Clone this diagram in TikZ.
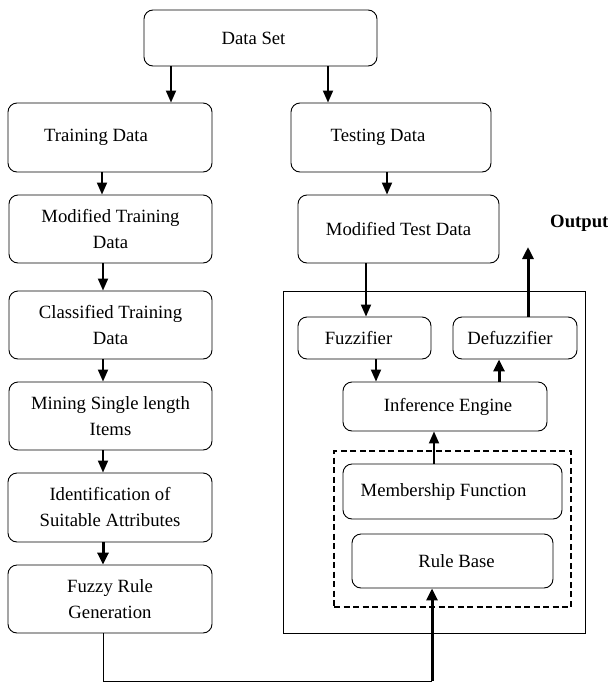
\documentclass[tikz,border=0pt]{standalone}
\usepackage{fontspec}
\setmainfont{Liberation Serif}
\usetikzlibrary{arrows.meta}
\begin{document}
\begin{tikzpicture}[x=1pt,y=-1pt,
  box/.style={draw,line width=0.9pt,rounded corners=9pt,align=center,inner sep=0pt,
    font=\fontsize{18.7}{26}\selectfont},
  arr/.style={line width=1.8pt,-{Triangle[length=12pt,width=10pt]}},
  tarr/.style={line width=3pt,-{Triangle[length=12pt,width=11pt]}},
  thin/.style={line width=0.9pt}]
\useasboundingbox (0,0) rectangle (608,683);
% left column
\node[box,minimum width=233pt,minimum height=56pt] (ds) at (260.5,38) {\hspace*{-14pt}Data Set};
\node[box,minimum width=204pt,minimum height=69pt] (td) at (110,137.5) {\hspace*{-28pt}Training Data};
\node[box,minimum width=200pt,minimum height=69pt] (ted) at (391,137.5) {\hspace*{-26pt}Testing Data};
\node[box,minimum width=203pt,minimum height=68pt] (mtd) at (110.5,229) {Modified Training\\Data};
\node[box,minimum width=201pt,minimum height=68pt] (mted) at (398.5,229) {Modified Test Data};
\node[box,minimum width=203pt,minimum height=68pt] (ctd) at (110.5,325) {Classified Training\\Data};
\node[box,minimum width=203pt,minimum height=68pt] (ms) at (110.5,416) {Mining Single length\\Items};
\node[box,minimum width=204pt,minimum height=69pt] (id) at (110,507.5) {Identification of\\Suitable Attributes};
\node[box,minimum width=204pt,minimum height=68pt] (frg) at (110,599) {Fuzzy Rule\\Generation};
% right system
\node[draw,thin,minimum width=302pt,minimum height=342pt,inner sep=0pt] (sys) at (434,462) {};
\node[box,minimum width=133pt,minimum height=42pt] (fuzz) at (364.5,338) {\hspace*{-12pt}Fuzzifier};
\node[box,minimum width=124pt,minimum height=42pt] (defuzz) at (515,338) {\hspace*{-10pt}Defuzzifier};
\node[box,minimum width=204pt,minimum height=49pt] (inf) at (445,406.5) {\hspace*{6pt}Inference Engine};
\node[draw,line width=1.8pt,dash pattern=on 6pt off 3.5pt,minimum width=237pt,minimum height=156pt,inner sep=0pt] (kb) at (452.5,529) {};
\node[box,minimum width=219pt,minimum height=55pt] (mf) at (452.5,491.5) {\hspace*{-18pt}Membership Function};
\node[box,minimum width=201pt,minimum height=54pt] (rb) at (452.5,561) {\hspace*{8pt}Rule Base};
\node[font=\fontsize{18.7}{22}\selectfont\bfseries,anchor=west,inner sep=0pt] (out) at (550,223) {Output};
\coordinate (outend) at (528,247);
\coordinate (bend) at (432,681);
% connectors
\draw[arr] (171,0 |- ds.south) -- (171,0 |- td.north);
\draw[arr] (328,0 |- ds.south) -- (328,0 |- ted.north);
\draw[arr] (102,0 |- td.south) -- (102,0 |- mtd.north);
\draw[arr] (387,0 |- ted.south) -- (387,0 |- mted.north);
\draw[arr] (103,0 |- mtd.south) -- (103,0 |- ctd.north);
\draw[arr] (103,0 |- ctd.south) -- (103,0 |- ms.north);
\draw[arr] (103,0 |- ms.south) -- (103,0 |- id.north);
\draw[tarr] (103,0 |- id.south) -- (103,0 |- frg.north);
\draw[arr] (366,0 |- mted.south) -- (366,0 |- fuzz.north);
\draw[arr] (376,0 |- fuzz.south) -- (376,0 |- inf.north);
\draw[tarr] (499,0 |- inf.north) -- (499,0 |- defuzz.south);
\draw[tarr] (528,0 |- defuzz.north) -- (outend);
\draw[arr] (434,0 |- mf.north) -- (434,0 |- inf.south);
\draw[thin] (103,0 |- frg.south) -- (103,0 |- bend) -- (bend);
\draw[tarr] (bend) -- (432,0 |- rb.south);
\end{tikzpicture}
\end{document}
